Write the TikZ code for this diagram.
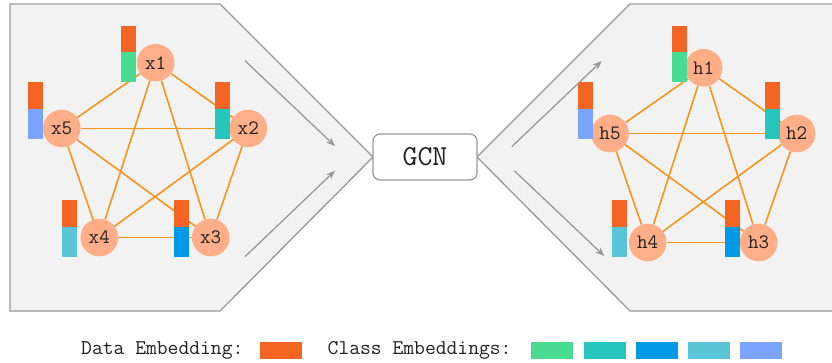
\documentclass[tikz,border=0pt]{standalone}
\usepackage{fontspec}
\usetikzlibrary{arrows.meta}
\definecolor{panelfill}{HTML}{F2F2F2}
\definecolor{panelline}{HTML}{999999}
\definecolor{edgeO}{HTML}{F7941D}
\definecolor{vfill}{HTML}{FFAE88}
\definecolor{dataO}{HTML}{F46524}
\definecolor{cGreen}{HTML}{4ADB93}
\definecolor{cTeal}{HTML}{26C6BF}
\definecolor{cBlue}{HTML}{0099E6}
\definecolor{cLBlue}{HTML}{5BC5D8}
\definecolor{cLav}{HTML}{7BA3FF}
\definecolor{txt}{HTML}{222222}
\newcommand\embbar[3]{%
  \fill[dataO] (#1,#2) rectangle ++(15,26.5);
  \fill[#3] (#1,#2+26.5) rectangle ++(15,30);}
\begin{document}
\begin{tikzpicture}[x=1pt,y=-1pt,
  panel/.style={fill=panelfill},
  panelborder/.style={draw=panelline,line width=1.3pt,line join=miter},
  vtx/.style={circle,fill=vfill,minimum size=37.6pt,inner sep=0pt,text=txt,
    font=\ttfamily\fontsize{20.5}{20.5}\selectfont},
  edge/.style={draw=edgeO,line width=1.6pt},
  flow/.style={draw=panelline,line width=1.3pt,-{Stealth[length=9pt,width=7pt]}},
  gcnbox/.style={draw=panelline,line width=1.2pt,fill=white,rounded corners=7pt,
    minimum width=104pt,minimum height=46pt,inner sep=0pt,text=txt,
    font=\ttfamily\fontsize{29}{29}\selectfont},
  legend/.style={anchor=west,inner sep=0pt,text=txt,
    font=\ttfamily\fontsize{21}{21}\selectfont}]
\useasboundingbox (0,0) rectangle (832,362);
% panels
\fill[panel] (10,4) -- (220,4) -- (373,157) -- (220,311) -- (10,311) -- cycle;
\draw[panelborder] (10,4) -- (220,4) -- (373,157) -- (220,311) -- (10,311) -- cycle;
\fill[panel] (840,4) -- (630,4) -- (477,157) -- (630,311) -- (840,311) -- cycle;
\draw[panelborder] (840,4) -- (630,4) -- (477,157) -- (630,311) -- (840,311);
% left graph
\node[vtx] (x1) at (155.7,62.7) {x1};
\node[vtx] (x2) at (248.3,128.5) {x2};
\node[vtx] (x3) at (210.7,237.5) {x3};
\node[vtx] (x4) at (99.3,237.5) {x4};
\node[vtx] (x5) at (61.7,128.5) {x5};
\foreach \a/\b in {1/2,1/3,1/4,1/5,2/3,2/4,2/5,3/4,3/5,4/5}
  \draw[edge] (x\a) -- (x\b);
\embbar{121}{25.5}{cGreen}
\embbar{28}{82}{cLav}
\embbar{215}{82}{cTeal}
\embbar{62}{200}{cLBlue}
\embbar{174}{200}{cBlue}
% right graph
\node[vtx] (h1) at (703.7,67.7) {h1};
\node[vtx] (h2) at (796.7,133.5) {h2};
\node[vtx] (h3) at (758.7,242.5) {h3};
\node[vtx] (h4) at (647.7,242.5) {h4};
\node[vtx] (h5) at (610,133.5) {h5};
\foreach \a/\b in {1/2,1/3,1/4,1/5,2/3,2/4,2/5,3/4,3/5,4/5}
  \draw[edge] (h\a) -- (h\b);
\embbar{672}{25.5}{cGreen}
\embbar{578}{82}{cLav}
\embbar{765}{82}{cTeal}
\embbar{612}{200}{cLBlue}
\embbar{725}{200}{cBlue}
% GCN
\node[gcnbox] (gcn) at (425,157) {GCN};
% flow arrows
\coordinate (la1s) at (245,60.7);  \coordinate (la1e) at (335,146);
\coordinate (la2s) at (245,256.7); \coordinate (la2e) at (335,170.7);
\coordinate (ra1s) at (511.7,146.7); \coordinate (ra1e) at (601.7,61);
\coordinate (ra2s) at (514.3,170.7); \coordinate (ra2e) at (604.3,256);
\draw[flow] (la1s) -- (la1e);
\draw[flow] (la2s) -- (la2e);
\draw[flow] (ra1s) -- (ra1e);
\draw[flow] (ra2s) -- (ra2e);
% legend
\node[legend] (dlab) at (81,350.7) {Data Embedding:};
\fill[dataO] (260,342.3) rectangle (301.7,359);
\node[legend] (clab) at (327.5,350.7) {Class Embeddings:};
\fill[cGreen] (531,342.3) rectangle (572.7,359);
\fill[cTeal] (584,342.3) rectangle (626,359);
\fill[cBlue] (636,342.3) rectangle (678,359);
\fill[cLBlue] (688,342.3) rectangle (730,359);
\fill[cLav] (740,342.3) rectangle (782,359);
\end{tikzpicture}
\end{document}
